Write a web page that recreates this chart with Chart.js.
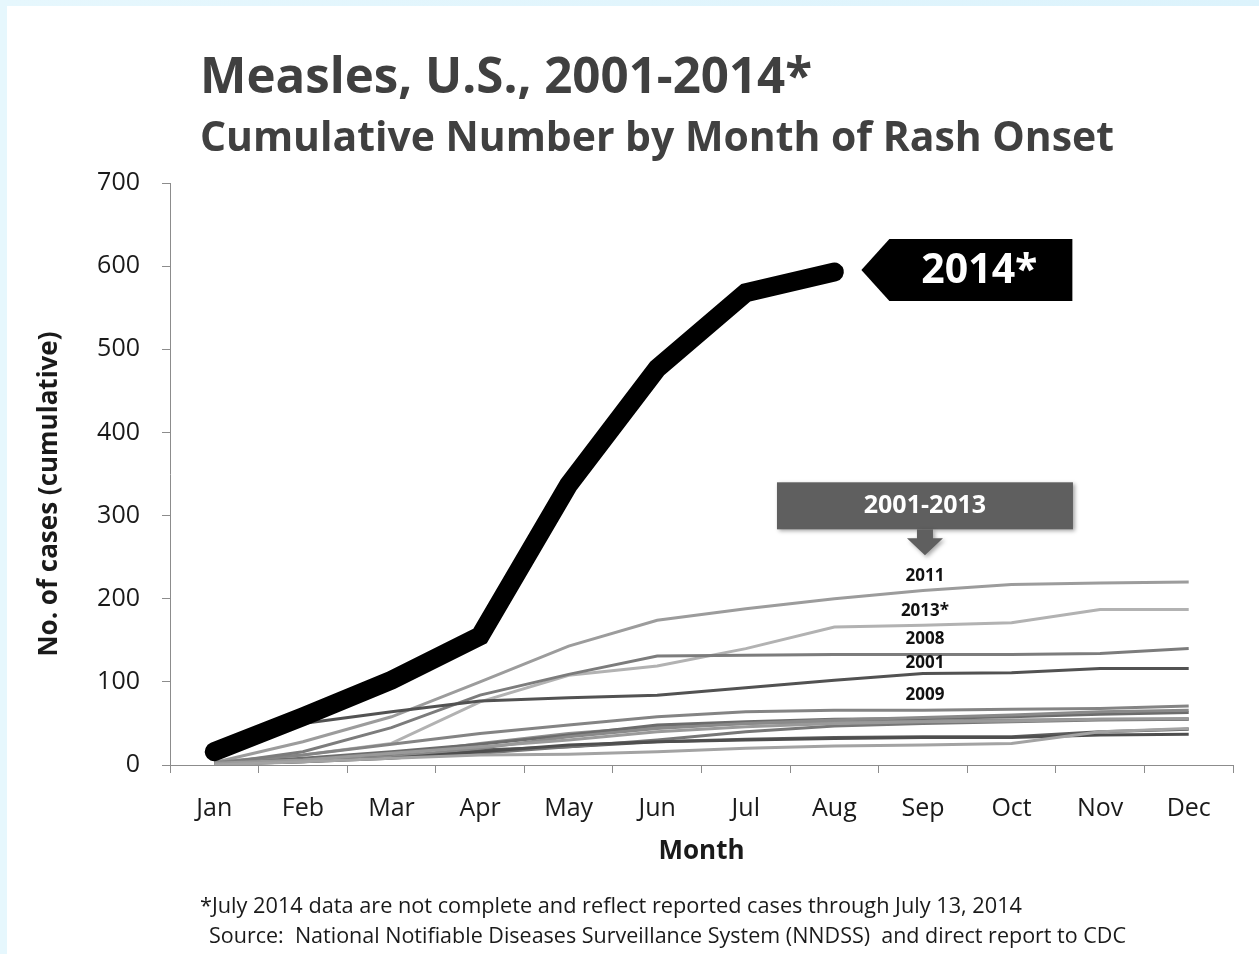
<!DOCTYPE html>
<html>
<head>
<meta charset="utf-8">
<title>Measles, U.S., 2001-2014*</title>
<script src="https://cdn.jsdelivr.net/npm/chart.js@4.4.1/dist/chart.umd.min.js"></script>
<style>
  html, body { margin: 0; padding: 0; }
  body { width: 1259px; height: 954px; position: relative; overflow: hidden;
         background: linear-gradient(90deg, #e6f7fd, #dcf3fc); }
  #panel { position: absolute; left: 7px; top: 6px; width: 1252px; height: 948px; background: #fff; }
  canvas { display: block; }
</style>
</head>
<body>
<div id="panel"><canvas id="measles" width="1252" height="948"></canvas></div>
<script>
// Cumulative measles cases by month of rash onset
const months = ['Jan', 'Feb', 'Mar', 'Apr', 'May', 'Jun', 'Jul', 'Aug', 'Sep', 'Oct', 'Nov', 'Dec'];
const yTicks = [0, 100, 200, 300, 400, 500, 600, 700];

const cases2014 = [16, 58, 102, 155, 337, 477, 568, 593];

const cases2001 = [20, 50, 64, 77, 81, 84, 93, 102, 110, 111, 116, 116];
const cases2002 = [0, 4, 8, 12, 13, 16, 20, 23, 24, 26, 40, 44];
const cases2003 = [2, 6, 14, 22, 30, 40, 46, 50, 52, 53, 55, 56];
const cases2004 = [1, 4, 8, 16, 24, 28, 30, 32, 33, 33, 36, 37];
const cases2005 = [1, 4, 10, 20, 34, 44, 50, 54, 57, 60, 64, 66];
const cases2006 = [1, 5, 9, 14, 22, 30, 40, 47, 50, 52, 54, 55];
const cases2007 = [1, 5, 10, 18, 22, 28, 31, 33, 34, 34, 40, 43];
const cases2008 = [1, 16, 45, 84, 109, 131, 132, 133, 133, 133, 134, 140];
const cases2009 = [3, 12, 25, 38, 48, 58, 64, 66, 66, 67, 68, 71];
const cases2010 = [2, 8, 16, 25, 36, 48, 52, 55, 56, 58, 61, 63];
const cases2011 = [3, 28, 58, 100, 143, 174, 188, 200, 210, 217, 219, 220];
const cases2012 = [2, 6, 12, 26, 38, 46, 50, 52, 53, 54, 55, 55];
const cases2013 = [4, 12, 26, 76, 108, 119, 140, 166, 168, 171, 187, 187];

const FONT = '"Open Sans", "DejaVu Sans", sans-serif';

const grayLines = [
  ['2001', cases2001, '#525252'],
  ['2002', cases2002, '#a3a3a3'],
  ['2003', cases2003, '#9a9a9a'],
  ['2004', cases2004, '#4e4e4e'],
  ['2005', cases2005, '#8a8a8a'],
  ['2006', cases2006, '#777777'],
  ['2007', cases2007, '#5c5c5c'],
  ['2008', cases2008, '#7c7c7c'],
  ['2009', cases2009, '#848484'],
  ['2010', cases2010, '#6c6c6c'],
  ['2011', cases2011, '#9c9c9c'],
  ['2012', cases2012, '#8f8f8f'],
  ['2013*', cases2013, '#b2b2b2']
];

const datasets = [{
  label: '2014*',
  data: cases2014,
  borderColor: '#000',
  borderWidth: 19,
  borderCapStyle: 'round',
  borderJoinStyle: 'miter',
  order: 0
}].concat(grayLines.map(([label, data, color]) => ({
  label, data,
  borderColor: color,
  borderWidth: 3,
  order: 1
})));

// year tags placed just above their lines at Sep
const yearTags = [
  ['2011', cases2011, 14],
  ['2013*', cases2013, 14],
  ['2008', cases2008, 15],
  ['2001', cases2001, 10],
  ['2009', cases2009, 15]
];

const notes = {
  id: 'notes',
  afterDatasetsDraw(chart) {
    const { ctx, scales: { x, y } } = chart;
    const sep = x.getPixelForValue(8);
    ctx.save();

    // small year tags
    ctx.fillStyle = '#111';
    ctx.font = 'bold 17px ' + FONT;
    ctx.textAlign = 'center';
    ctx.textBaseline = 'middle';
    yearTags.forEach(([text, data, lift]) => {
      ctx.fillText(text, sep + 2, y.getPixelForValue(data[8]) - lift);
    });

    // 2014* callout pointing at the end of the black line
    const last = cases2014.length - 1;
    const tipX = x.getPixelForValue(last) + 27;
    const tipY = y.getPixelForValue(cases2014[last]) - 2;
    ctx.fillStyle = '#000';
    ctx.beginPath();
    ctx.moveTo(tipX, tipY);
    ctx.lineTo(tipX + 28, tipY - 31);
    ctx.lineTo(tipX + 211, tipY - 31);
    ctx.lineTo(tipX + 211, tipY + 31);
    ctx.lineTo(tipX + 28, tipY + 31);
    ctx.closePath();
    ctx.fill();
    ctx.fillStyle = '#fff';
    ctx.font = 'bold 41px ' + FONT;
    ctx.fillText('2014*', tipX + 118, tipY + 1);

    // 2001-2013 box with arrow
    const cx = sep + 2;
    const top = y.getPixelForValue(340);
    ctx.save();
    ctx.shadowColor = 'rgba(0,0,0,0.35)';
    ctx.shadowBlur = 4;
    ctx.shadowOffsetX = 2;
    ctx.shadowOffsetY = 2;
    ctx.fillStyle = '#5f5f5f';
    ctx.fillRect(cx - 148, top, 296, 47);
    ctx.beginPath();
    ctx.moveTo(cx - 8, top + 47);
    ctx.lineTo(cx + 8, top + 47);
    ctx.lineTo(cx + 8, top + 56);
    ctx.lineTo(cx + 18, top + 56);
    ctx.lineTo(cx, top + 73);
    ctx.lineTo(cx - 18, top + 56);
    ctx.lineTo(cx - 8, top + 56);
    ctx.closePath();
    ctx.fill();
    ctx.restore();
    ctx.fillStyle = '#fff';
    ctx.font = 'bold 25px ' + FONT;
    ctx.fillText('2001-2013', cx, top + 24);

    ctx.restore();
  },
  afterDraw(chart) {
    const { ctx } = chart;
    ctx.save();
    ctx.textAlign = 'left';
    ctx.textBaseline = 'alphabetic';
    ctx.fillStyle = '#404040';
    ctx.font = 'bold 50px ' + FONT;
    ctx.fillText('Measles, U.S., 2001-2014*', 193, 87, 612);
    ctx.font = 'bold 41px ' + FONT;
    ctx.fillText('Cumulative Number by Month of Rash Onset', 193, 145, 914);

    // y axis title, sitting a little below the axis middle
    ctx.save();
    ctx.translate(43, 488);
    ctx.rotate(-Math.PI / 2);
    ctx.textAlign = 'center';
    ctx.textBaseline = 'middle';
    ctx.fillStyle = '#1a1a1a';
    ctx.font = 'bold 26px ' + FONT;
    ctx.fillText('No. of cases (cumulative)', 0, 0, 328);
    ctx.restore();

    ctx.fillStyle = '#1a1a1a';
    ctx.font = '22px ' + FONT;
    ctx.textBaseline = 'middle';
    ctx.fillText('*July 2014 data are not complete and reflect reported cases through July 13, 2014', 193, 901, 822);
    ctx.fillText('Source:  National Notifiable Diseases Surveillance System (NNDSS)  and direct report to CDC', 202, 931, 917);
    ctx.restore();
  }
};

new Chart(document.getElementById('measles'), {
  type: 'line',
  data: { labels: months, datasets },
  options: {
    responsive: false,
    animation: false,
    layout: { padding: { top: 177, left: 28, right: 26, bottom: 87 } },
    elements: { point: { radius: 0 }, line: { tension: 0 } },
    plugins: { legend: { display: false }, tooltip: { enabled: false } },
    scales: {
      x: {
        offset: true,
        grid: { offset: true, drawOnChartArea: false, tickLength: 8, color: '#8c8c8c' },
        border: { color: '#8c8c8c' },
        ticks: { color: '#1a1a1a', font: { family: FONT, size: 25 }, padding: 21, maxRotation: 0, autoSkip: false },
        title: { display: true, text: 'Month', color: '#1a1a1a', font: { family: FONT, size: 26, weight: 'bold' }, padding: 0 },
        afterFit(scale) { scale.height = 102; }
      },
      y: {
        min: yTicks[0],
        max: yTicks[yTicks.length - 1],
        afterBuildTicks(scale) { scale.ticks = yTicks.map(v => ({ value: v })); },
        grid: { drawOnChartArea: false, tickLength: 8, color: '#8c8c8c' },
        border: { color: '#8c8c8c' },
        ticks: { color: '#1a1a1a', font: { family: FONT, size: 25 }, padding: 22 },
        afterFit(scale) { scale.width = 135; }
      }
    }
  },
  plugins: [notes]
});
</script>
</body>
</html>
